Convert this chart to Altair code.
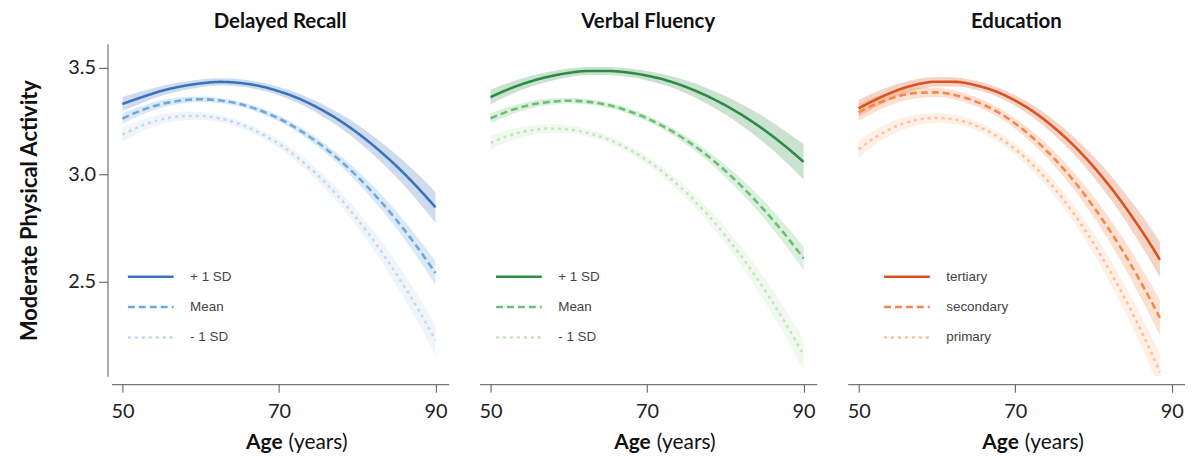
import altair as alt
import pandas as pd

# ---------------- data ----------------
AGES = [50, 52.5, 55, 57.5, 60, 62.5, 65, 67.5, 70, 72.5, 75, 77.5, 80, 82.5, 85, 87.5, 90]
AGES_EDU = [50, 52.5, 55, 57.5, 60, 62.5, 65, 67.5, 70, 72.5, 75, 77.5, 80, 82.5, 85, 87.5, 88.5]

# Delayed Recall
DR_HIGH = [3.330, 3.362, 3.391, 3.412, 3.426, 3.433, 3.428, 3.414, 3.389, 3.356, 3.312, 3.259, 3.196, 3.123, 3.041, 2.949, 2.848]
DR_MEAN = [3.262, 3.301, 3.330, 3.346, 3.352, 3.346, 3.330, 3.301, 3.262, 3.211, 3.149, 3.076, 2.992, 2.896, 2.790, 2.671, 2.542]
DR_LOW = [3.187, 3.229, 3.258, 3.273, 3.274, 3.262, 3.236, 3.196, 3.143, 3.076, 2.996, 2.902, 2.794, 2.673, 2.538, 2.390, 2.228]

# Verbal Fluency
VF_HIGH = [3.362, 3.402, 3.434, 3.458, 3.475, 3.484, 3.484, 3.477, 3.462, 3.440, 3.409, 3.370, 3.324, 3.270, 3.208, 3.138, 3.060]
VF_MEAN = [3.263, 3.299, 3.325, 3.340, 3.345, 3.340, 3.325, 3.299, 3.263, 3.217, 3.161, 3.095, 3.018, 2.931, 2.834, 2.727, 2.610]
VF_LOW = [3.149, 3.184, 3.206, 3.215, 3.211, 3.194, 3.165, 3.122, 3.067, 2.998, 2.917, 2.823, 2.716, 2.597, 2.464, 2.319, 2.160]

# Education
ED_TER = [3.310, 3.356, 3.395, 3.422, 3.434, 3.433, 3.417, 3.389, 3.346, 3.290, 3.219, 3.136, 3.038, 2.927, 2.801, 2.663, 2.603]
ED_SEC = [3.292, 3.334, 3.366, 3.382, 3.384, 3.370, 3.341, 3.298, 3.239, 3.164, 3.075, 2.971, 2.851, 2.717, 2.567, 2.402, 2.332]
ED_PRI = [3.119, 3.183, 3.229, 3.256, 3.265, 3.256, 3.229, 3.183, 3.119, 3.037, 2.937, 2.818, 2.681, 2.526, 2.353, 2.161, 2.079]

# confidence-band half widths
CI_WIDE = [0.032, 0.027, 0.023, 0.020, 0.018, 0.017, 0.017, 0.018, 0.020, 0.023, 0.027, 0.032, 0.038, 0.045, 0.053, 0.062, 0.072]
CI_NARROW = [0.024, 0.020, 0.017, 0.015, 0.013, 0.012, 0.012, 0.013, 0.014, 0.016, 0.019, 0.023, 0.028, 0.034, 0.040, 0.047, 0.055]
CI_GREEN = [0.034, 0.029, 0.025, 0.022, 0.020, 0.019, 0.019, 0.020, 0.022, 0.025, 0.030, 0.036, 0.043, 0.051, 0.060, 0.070, 0.082]
CI_EDU = [0.040, 0.034, 0.029, 0.025, 0.022, 0.021, 0.021, 0.022, 0.025, 0.029, 0.034, 0.040, 0.048, 0.057, 0.067, 0.078, 0.082]

SD_NAMES = ["+ 1 SD", "Mean", "- 1 SD"]
EDU_NAMES = ["tertiary", "secondary", "primary"]

BLUES = ["#3a73bc", "#6fa9dc", "#c3d9ee"]
GREENS = ["#2e8b47", "#6cbf75", "#c4e6bd"]
ORANGES = ["#d9531f", "#f4884a", "#fcc29a"]
DASHES = [[1, 0], [7, 4], [3, 4]]

Y_DOMAIN = [2.06, 3.61]
X_DOMAIN = [48.6, 91.7]
W, H = 339, 334

FONT = "Lato"


def frame(ages, series_list, names, cis):
    rows = []
    for name, vals, ci in zip(names, series_list, cis):
        for a, v, c in zip(ages, vals, ci):
            rows.append({"age": a, "value": v, "lo": v - c, "hi": v + c, "series": name})
    return pd.DataFrame(rows)


def panel(df, title, names, colors, show_y, legend_x):
    xs = alt.Scale(domain=X_DOMAIN, nice=False, zero=False)
    ys = alt.Scale(domain=Y_DOMAIN, nice=False, zero=False)
    xaxis = alt.Axis(values=[50, 70, 90], title=None, grid=False, offset=8, tickSize=8,
                     labelPadding=9, labelFontSize=20, labelFont=FONT, labelColor="#222",
                     domainColor="#555", tickColor="#555", labelFlush=False)
    if show_y:
        yaxis = alt.Axis(values=[2.5, 3.0, 3.5], format=".1f", title="Moderate Physical Activity",
                         grid=False, offset=4, tickSize=9, labelPadding=3, labelFontSize=20,
                         labelFont=FONT, labelColor="#222", domainColor="#555", tickColor="#555",
                         titleFont=FONT, titleFontSize=22, titleFontWeight="bold",
                         titleColor="#111", titlePadding=26)
    else:
        yaxis = None
    legend = alt.Legend(title=None, orient="none", legendX=legend_x, legendY=224,
                        symbolType="stroke", symbolSize=2116, symbolStrokeWidth=2.5,
                        symbolOpacity=1, clipHeight=20, rowPadding=10.5, labelOffset=15,
                        padding=0, labelFont="Liberation Sans", labelFontSize=13.5,
                        labelColor="#444")
    base = alt.Chart(df)
    # band fill scale uses the reversed order so that it is not merged with the line legend
    band = base.mark_area(opacity=0.25, interpolate="monotone", clip=True).encode(
        x=alt.X("age:Q", scale=xs, axis=xaxis),
        y=alt.Y("lo:Q", scale=ys, axis=yaxis),
        y2="hi:Q",
        fill=alt.Fill("series:N", scale=alt.Scale(domain=names[::-1], range=colors[::-1]),
                      legend=None),
    )
    line = base.mark_line(strokeWidth=2.6, interpolate="monotone", clip=True).encode(
        x=alt.X("age:Q", scale=xs, axis=xaxis),
        y=alt.Y("value:Q", scale=ys, axis=yaxis),
        color=alt.Color("series:N", scale=alt.Scale(domain=names, range=colors),
                        legend=legend, sort=names),
        strokeDash=alt.StrokeDash("series:N", scale=alt.Scale(domain=names, range=DASHES),
                                  legend=legend, sort=names),
    )
    t1 = alt.Chart(pd.DataFrame({"t": ["Age"]})).mark_text(
        align="right", baseline="alphabetic", font=FONT, fontSize=21, fontWeight="bold", color="#111"
    ).encode(x=alt.value(172), y=alt.value(H + 73), text="t:N")
    t2 = alt.Chart(pd.DataFrame({"t": ["(years)"]})).mark_text(
        align="left", baseline="alphabetic", font=FONT, fontSize=21, color="#111"
    ).encode(x=alt.value(178), y=alt.value(H + 73), text="t:N")
    return alt.layer(band, line, t1, t2).properties(
        width=W, height=H,
        title=alt.TitleParams(title, font=FONT, fontSize=20.5, fontWeight="bold", color="#111",
                              offset=12, anchor="middle", frame="group"),
    )


df1 = frame(AGES, [DR_HIGH, DR_MEAN, DR_LOW], SD_NAMES, [CI_WIDE, CI_NARROW, CI_WIDE])
df2 = frame(AGES, [VF_HIGH, VF_MEAN, VF_LOW], SD_NAMES, [CI_GREEN, CI_NARROW, CI_WIDE])
df3 = frame(AGES_EDU, [ED_TER, ED_SEC, ED_PRI], EDU_NAMES, [CI_EDU, CI_EDU, CI_EDU])

p1 = panel(df1, "Delayed Recall", SD_NAMES, BLUES, True, 15)
p2 = panel(df2, "Verbal Fluency", SD_NAMES, GREENS, False, 15)
p3 = panel(df3, "Education", EDU_NAMES, ORANGES, False, 35)

chart = alt.hconcat(p1, p2, p3, spacing=30).resolve_scale(
    color="independent", strokeDash="independent", fill="independent",
    x="independent", y="independent",
).resolve_legend(color="independent", strokeDash="independent").properties(
    padding={"left": 11, "top": 2, "right": 0, "bottom": 0},
    background="white",
).configure_view(strokeWidth=0, stroke="transparent")

chart.save("out.html", embed_options={"renderer": "svg", "actions": False})
